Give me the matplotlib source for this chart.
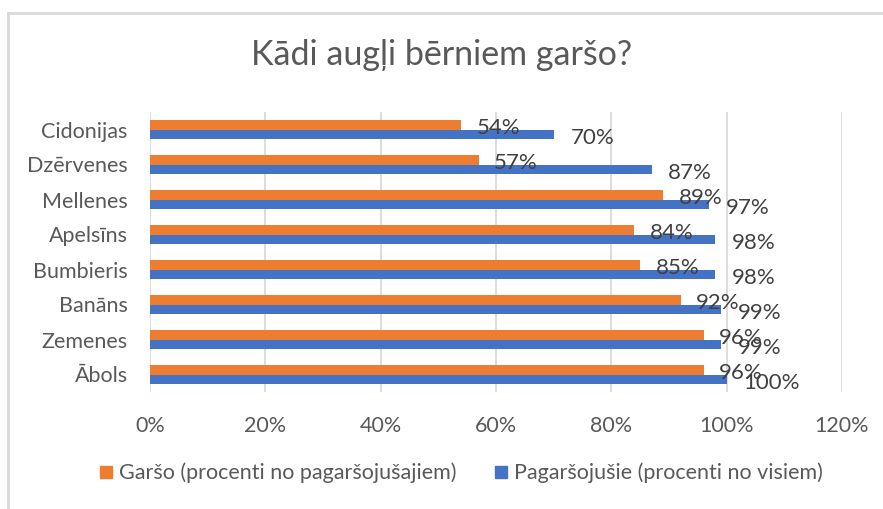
import matplotlib.pyplot as plt
import numpy as np
from matplotlib.lines import Line2D

plt.rcParams['font.family'] = ['Lato', 'DejaVu Sans']

categories = ["Ābols", "Zemenes", "Banāns", "Bumbieris", "Apelsīns", "Mellenes", "Dzērvenes", "Cidonijas"]
garso = [96, 96, 92, 85, 84, 89, 57, 54]
pagarsojusie = [100, 99, 99, 98, 98, 97, 87, 70]
x_ticks = [0, 20, 40, 60, 80, 100, 120]

ORANGE = "#ED7D31"
BLUE = "#4472C4"
GRID = "#D9D9D9"
TXT = "#595959"
LBL = "#404040"

fig = plt.figure(figsize=(8.83, 5.09), dpi=100)
ax = fig.add_axes([150 / 883, 1 - 392 / 509, (842 - 150) / 883, (392 - 112) / 509])

y = np.arange(len(categories))
h = 0.26
ax.barh(y + h / 2, garso, height=h, color=ORANGE, zorder=2)
ax.barh(y - h / 2, pagarsojusie, height=h, color=BLUE, zorder=2)

for yi, v in zip(y, garso):
    ax.annotate(f"{v}%", (v, yi + h / 2), xytext=(11, -2), textcoords="offset points",
                ha="left", va="center", fontsize=16, color=LBL)
for yi, v in zip(y, pagarsojusie):
    ax.annotate(f"{v}%", (v, yi - h / 2), xytext=(12, -3), textcoords="offset points",
                ha="left", va="center", fontsize=16, color=LBL)

ax.set_xlim(0, 120)
ax.set_ylim(-0.5, len(categories) - 0.5)
ax.set_xticks(x_ticks)
ax.set_xticklabels([f"{t}%" for t in x_ticks])
ax.set_yticks(y)
ax.set_yticklabels(categories)
ax.tick_params(axis="both", length=0, labelsize=15.5, colors=TXT)
ax.tick_params(axis="x", pad=17)
ax.tick_params(axis="y", pad=16)
ax.xaxis.grid(True, color=GRID, linewidth=1.3, zorder=0)
for s in ax.spines.values():
    s.set_visible(False)

fig.text(0.5, 1 - 55 / 509, "Kādi augļi bērniem garšo?", ha="center", va="center",
         fontsize=24.5, color=TXT)

handles = [Line2D([], [], marker="s", linestyle="none", markersize=9, color=ORANGE),
           Line2D([], [], marker="s", linestyle="none", markersize=9, color=BLUE)]
fig.legend(handles, ["Garšo (procenti no pagaršojušajiem)", "Pagaršojušie (procenti no visiem)"],
           loc="center", bbox_to_anchor=(459 / 883, 1 - 473 / 509), ncol=2, frameon=False,
           fontsize=15.5, labelcolor=TXT, handletextpad=0.1, columnspacing=1.6,
           handlelength=1.0)

# chart border (top and left edges visible)
fig.add_artist(Line2D([8 / 883, 1], [1 - 13 / 509] * 2, color=GRID, linewidth=2, transform=fig.transFigure))
fig.add_artist(Line2D([8 / 883] * 2, [0, 1 - 13 / 509], color=GRID, linewidth=2, transform=fig.transFigure))

fig.savefig("out.png", dpi=100)
